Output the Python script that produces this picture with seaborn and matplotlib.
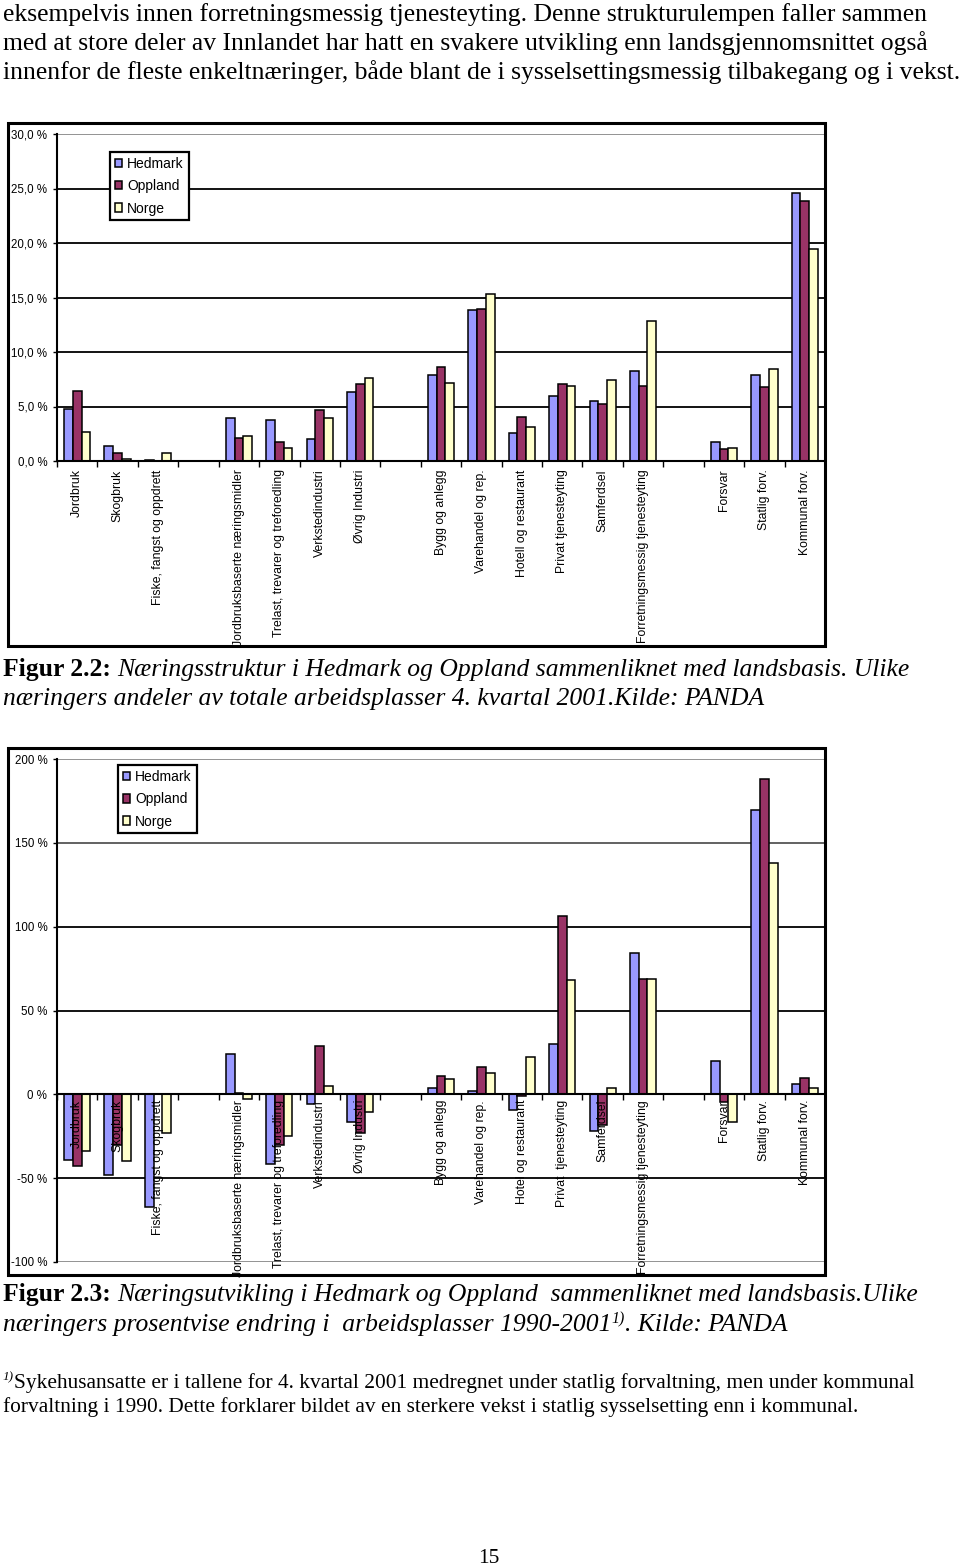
import numpy as np
import pandas as pd
import matplotlib
matplotlib.use("Agg")
import matplotlib.pyplot as plt
from matplotlib.patches import Rectangle
import seaborn as sns

# ---------------- data ----------------
areas = ["Hedmark", "Oppland", "Norge"]
colors = ["#9999FF", "#993366", "#FFFFCC"]

categories = ["Jordbruk", "Skogbruk", "Fiske, fangst og oppdrett",
              "Jordbruksbaserte næringsmidler", "Trelast, trevarer og treforedling",
              "Verkstedindustri", "Øvrig Industri",
              "Bygg og anlegg", "Varehandel og rep.", "Hotell og restaurant",
              "Privat tjenesteyting", "Samferdsel", "Forretningsmessig tjenesteyting",
              "Forsvar", "Statlig forv.", "Kommunal forv."]
labels_fig23 = ["Jordbruk", "Skogbruk", "Fiske, fangst og oppdrett",
                "Jordbruksbaserte næringsmidler", "Trelast, trevarer og treforedling",
                "Verkstedindustri", "Øvrig Industri",
                "Bygg og anlegg", "Varehandel og rep.", "Hotel og restaurant",
                "Privat  tjenesteyting", "Samferdsel", "Forretningsmessig tjenesteyting",
                "Forsvar", "Statlig forv.", "Kommunal forv."]
# empty category slots come after these category indices
gap_after = [2, 6, 12]

# Figur 2.2: share of total jobs, 4th quarter 2001 (%)
share_hedmark = [4.8, 1.35, 0.05, 3.9, 3.8, 2.0, 6.3, 7.9, 13.85, 2.6, 6.0, 5.5, 8.3, 1.7, 7.9, 24.6]
share_oppland = [6.4, 0.7, 0.03, 2.1, 1.7, 4.65, 7.1, 8.65, 13.95, 4.0, 7.1, 5.2, 6.85, 1.1, 6.75, 23.85]
share_norge = [2.7, 0.15, 0.7, 2.3, 1.2, 3.95, 7.6, 7.15, 15.3, 3.15, 6.85, 7.4, 12.8, 1.2, 8.45, 19.45]

# Figur 2.3: change in jobs 1990-2001 (%)
change_hedmark = [-39, -48, -67, 24, -41.5, -5.5, -16.5, 4, 2, -9.5, 30, -22, 84.5, 20, 169.5, 6]
change_oppland = [-43, -30, 0, 1, -30, 29, -23, 11, 16.5, -1.2, 106.5, -18.5, 69, -4.5, 188, 10]
change_norge = [-33.5, -40, -23, -3, -25, 5, -10.5, 9, 12.5, 22, 68, 4, 69, -16.5, 138, 4]

share_ticks = [0, 5, 10, 15, 20, 25, 30]
change_ticks = [-100, -50, 0, 50, 100, 150, 200]

# ---------------- setup ----------------
sns.set_theme(style="white")
plt.rcParams["font.family"] = ["Liberation Sans", "DejaVu Sans"]
SERIF = ["Liberation Serif", "DejaVu Serif"]

W, H = 960, 1567
fig = plt.figure(figsize=(W / 100, H / 100), dpi=100)
fig.patch.set_facecolor("white")
renderer = fig.canvas.get_renderer()


def fx(px):
    return px / W


def fy(py):
    return 1 - py / H


def add_axes(left, top, right, bottom):
    return fig.add_axes([fx(left), fy(bottom), (right - left) / W, (bottom - top) / H])


def frame(x0, y0, x1, y1):
    fig.add_artist(Rectangle((fx(x0), fy(y1)), (x1 - x0) / W, (y1 - y0) / H,
                             transform=fig.transFigure, fill=False,
                             edgecolor="black", linewidth=2.2, zorder=10))


# slot order with empty slots
slot_order, slot_cat_idx = [], []
blank = 0
for i, c in enumerate(categories):
    slot_order.append(c)
    slot_cat_idx.append(i)
    if i in gap_after:
        blank += 1
        slot_order.append(" " * blank)
        slot_cat_idx.append(None)
nslots = len(slot_order)


def draw_chart(ax, series, tick_labels, ylim, yticks, fmt, grid_colors,
               legend_anchor, label_pad, at_zero):
    df = pd.DataFrame({
        "Næring": categories * 3,
        "Område": [a for a in areas for _ in categories],
        "Verdi": list(series[0]) + list(series[1]) + list(series[2]),
    })
    sns.barplot(data=df, x="Næring", y="Verdi", hue="Område", order=slot_order,
                hue_order=areas, palette=colors, width=0.65, gap=0,
                edgecolor="black", linewidth=1.1, saturation=1,
                errorbar=None, ax=ax)
    ax.set_axisbelow(False)
    ax.set_xlim(-0.5, nslots - 0.5)
    ax.set_ylim(*ylim)
    ax.set_facecolor("white")
    for s in ["top", "right"]:
        ax.spines[s].set_visible(False)
    for s in ["left", "bottom"]:
        ax.spines[s].set_color("black")
        ax.spines[s].set_linewidth(1.5)
    if at_zero:
        ax.spines["bottom"].set_position(("data", 0))
    for v, c in zip(yticks, grid_colors):
        if v == 0:
            continue
        ax.axhline(v, color=c, linewidth=1.3, zorder=0)
    ax.set_yticks(yticks)
    ax.set_yticklabels([fmt(v) for v in yticks], fontsize=8.3)
    ax.tick_params(axis="y", which="major", left=True, length=3, width=1,
                   color="black", pad=4, labelcolor="black")
    slot_labels = [tick_labels[i] if i is not None else "" for i in slot_cat_idx]
    ax.set_xticks(range(nslots))
    ax.set_xticklabels(slot_labels, rotation=90, fontsize=8.8, va="top", ha="center")
    ax.set_xticks(np.arange(-0.5, nslots, 1.0), minor=True)
    ax.tick_params(axis="x", which="major", length=0, pad=label_pad, labelcolor="black")
    ax.tick_params(axis="x", which="minor", bottom=True, length=4, width=1,
                   color="black", direction="out")
    ax.set_xlabel("")
    ax.set_ylabel("")
    handles, labs = ax.get_legend_handles_labels()
    leg = ax.legend(handles, labs, loc="upper left", bbox_to_anchor=legend_anchor,
                    borderaxespad=0, frameon=True, fancybox=False, framealpha=1,
                    edgecolor="black", fontsize=10, handlelength=0.55,
                    handleheight=0.55, handletextpad=0.35, labelspacing=0.6,
                    borderpad=0.35, title=None)
    leg.get_frame().set_linewidth(1.6)
    leg.set_zorder(6)
    for t in leg.get_texts():
        t.set_color("black")


# ---- Figur 2.2 chart ----
frame(8, 123, 825, 646)
ax1 = add_axes(57, 134, 825, 461)
draw_chart(ax1, [share_hedmark, share_oppland, share_norge], categories,
           (0, 30), share_ticks, lambda v: f"{v:.1f}".replace(".", ",") + " %",
           ["black", "black", "black", "black", "black", "black", "#8a8a8a"],
           (0.069, 0.945), 6, False)

# ---- Figur 2.3 chart ----
frame(8, 748, 825, 1275)
ax2 = add_axes(57, 759, 825, 1262)
draw_chart(ax2, [change_hedmark, change_oppland, change_norge], labels_fig23,
           (-100, 200), change_ticks, lambda v: f"{v:d} %",
           ["#8a8a8a", "black", "black", "black", "black", "#555555", "#8a8a8a"],
           (0.079, 0.988), 4, True)


# ---------------- page text ----------------
def measure(text, size, st):
    kw = dict(fontsize=size * st.get("rel", 1), family=SERIF,
              fontweight=st.get("weight", "normal"), fontstyle=st.get("style", "normal"))
    t1 = fig.text(0, 0, "|" + text + "|", **kw)
    t2 = fig.text(0, 0, "||", **kw)
    w = t1.get_window_extent(renderer).width - t2.get_window_extent(renderer).width
    t1.remove()
    t2.remove()
    return w


def draw_line(runs, x0, base, right=None, size=None):
    if size is None:
        w0 = sum(measure(t, 10, st) for t, st in runs)
        size = 10 * (right - x0) / w0
    x = x0
    for text, st in runs:
        fig.text(fx(x), fy(base - st.get("rise", 0)), text,
                 fontsize=size * st.get("rel", 1), family=SERIF,
                 fontweight=st.get("weight", "normal"),
                 fontstyle=st.get("style", "normal"),
                 ha="left", va="baseline", color="black")
        x += measure(text, size, st)
    return size


N = {}
I = {"style": "italic"}
B = {"weight": "bold"}
SUP_I = {"style": "italic", "rel": 0.62, "rise": 8}

body = ["eksempelvis innen forretningsmessig tjenesteyting. Denne strukturulempen faller sammen",
        "med at store deler av Innlandet har hatt en svakere utvikling enn landsgjennomsnittet også",
        "innenfor de fleste enkeltnæringer, både blant de i sysselsettingsmessig tilbakegang og i vekst."]
bsize = draw_line([(body[2], N)], 3, 79, right=958)
draw_line([(body[0], N)], 3, 21, size=bsize)
draw_line([(body[1], N)], 3, 50, size=bsize)

csize = draw_line([("Figur 2.2: ", B),
                   ("Næringsstruktur i Hedmark og Oppland sammenliknet med landsbasis. Ulike", I)],
                  3, 676, right=908)
draw_line([("næringers andeler av totale arbeidsplasser 4. kvartal 2001.Kilde: PANDA", I)],
          3, 705, size=csize)

csize2 = draw_line([("Figur 2.3: ", B),
                    ("Næringsutvikling i Hedmark og Oppland  sammenliknet med landsbasis.Ulike", I)],
                   3, 1301, right=917)
draw_line([("næringers prosentvise endring i  arbeidsplasser 1990-2001", I), ("1)", SUP_I),
           (". Kilde: PANDA", I)], 3, 1331, size=csize2)

fsize = draw_line([("1)", SUP_I),
                   ("Sykehusansatte er i tallene for 4. kvartal 2001 medregnet under statlig forvaltning, men under kommunal", N)],
                  3, 1388, right=912)
draw_line([("forvaltning i 1990. Dette forklarer bildet av en sterkere vekst i statlig sysselsetting enn i kommunal.", N)],
          3, 1412, size=fsize)

fig.text(fx(489), fy(1563), "15", fontsize=fsize, family=SERIF, ha="center",
         va="baseline", color="black")

fig.savefig("out.png", dpi=100, facecolor="white")
